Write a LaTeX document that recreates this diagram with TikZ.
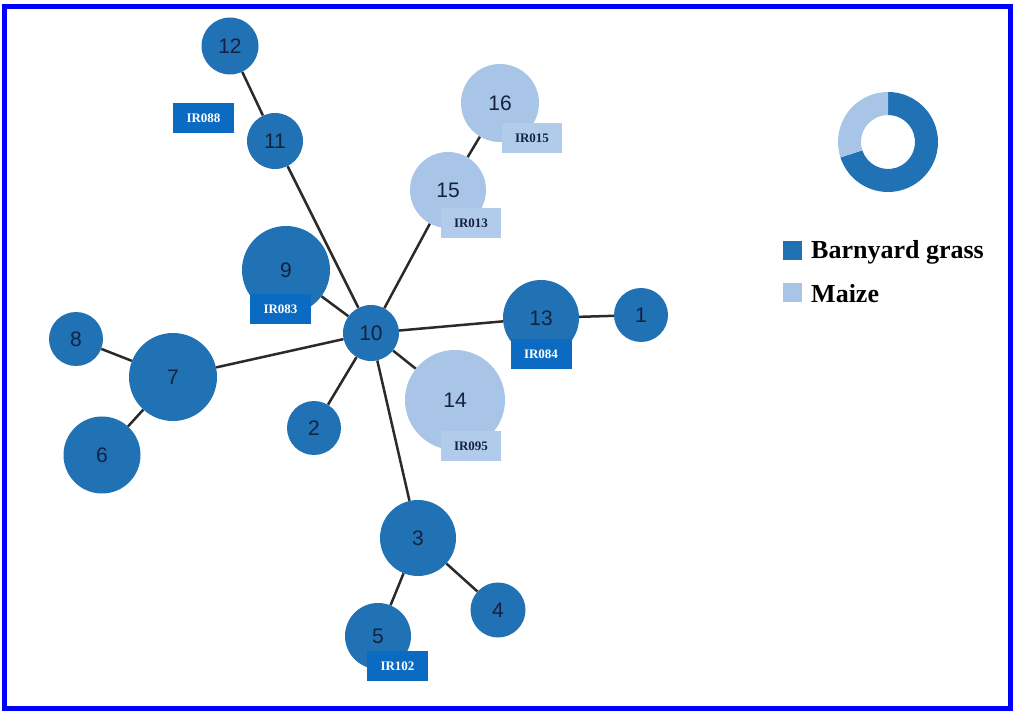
\documentclass[tikz,border=0pt]{standalone}
\usepackage{fontspec}
\setmainfont{Liberation Serif}
\setsansfont{Liberation Sans}
\pgfdeclarelayer{background}
\pgfsetlayers{background,main}
\definecolor{darkb}{HTML}{2171B5}
\definecolor{darkbox}{HTML}{0B6BC3}
\definecolor{lightb}{HTML}{A8C4E7}
\definecolor{lightbox}{HTML}{B0CCEA}
\definecolor{numtxt}{HTML}{14223F}
\definecolor{edgec}{HTML}{2A2A2A}
\tikzset{
  hap/.style={circle, inner sep=0pt, font=\sffamily\fontsize{21}{21}\selectfont, text=numtxt},
  dk/.style={hap, fill=darkb},
  lt/.style={hap, fill=lightb},
  dkbox/.style={fill=darkbox, text=white, font=\bfseries\fontsize{13}{13}\selectfont, minimum width=61pt, minimum height=30pt, inner sep=0pt},
  ltbox/.style={fill=lightbox, text=numtxt, font=\bfseries\fontsize{13}{13}\selectfont, minimum width=60pt, minimum height=30pt, inner sep=0pt},
  link/.style={draw=edgec, line width=2.5pt},
  legtxt/.style={anchor=west, font=\bfseries\fontsize{26}{26}\selectfont, text=black, inner sep=0pt},
  legkey/.style={minimum size=19pt, inner sep=0pt}
}
\begin{document}
\begin{tikzpicture}[x=1pt,y=-1pt]
\useasboundingbox (0,0) rectangle (1013,711);
\draw[blue, line width=5pt] (4.5,6.5) rectangle (1010.5,708.5);
% haplotype nodes
\node[dk, minimum size=57pt] (n12) at (230,46) {12};
\node[dk, minimum size=56pt] (n11) at (275,141) {11};
\node[lt, minimum size=78pt] (n16) at (500,103) {16};
\node[lt, minimum size=76pt] (n15) at (448,190) {15};
\node[dk, minimum size=88pt] (n9) at (286,270) {9};
\node[dk, minimum size=56pt] (n10) at (371,333) {10};
\node[dk, minimum size=76pt] (n13) at (541,318) {13};
\node[dk, minimum size=54pt] (n1) at (641,315) {1};
\node[dk, minimum size=54pt] (n8) at (76,339) {8};
\node[dk, minimum size=88pt] (n7) at (173,377) {7};
\node[dk, minimum size=77pt] (n6) at (102,455) {6};
\node[dk, minimum size=54pt] (n2) at (314,428) {2};
\node[lt, minimum size=100pt] (n14) at (455,400) {14};
\node[dk, minimum size=76pt] (n3) at (418,538) {3};
\node[dk, minimum size=55pt] (n4) at (498,610) {4};
\node[dk, minimum size=66pt] (n5) at (378,636) {5};
% isolate labels
\node[dkbox] (l88) at (203.5,118.5) {IR088};
\node[ltbox] (l15) at (532,138) {IR015};
\node[ltbox] (l13) at (471,223.5) {IR013};
\node[dkbox] (l83) at (280.5,309.5) {IR083};
\node[dkbox] (l84) at (541,354.5) {IR084};
\node[ltbox] (l95) at (471,446.5) {IR095};
\node[dkbox] (l102) at (397.5,666) {IR102};
% links
\begin{pgfonlayer}{background}
\draw[link] (n12) -- (n11);
\draw[link] (n11) -- (n10);
\draw[link] (n16) -- (n15);
\draw[link] (n15) -- (n10);
\draw[link] (n9) -- (n10);
\draw[link] (n10) -- (n13);
\draw[link] (n13) -- (n1);
\draw[link] (n10) -- (n7);
\draw[link] (n7) -- (n8);
\draw[link] (n7) -- (n6);
\draw[link] (n10) -- (n2);
\draw[link] (n10) -- (n14);
\draw[link] (n10) -- (n3);
\draw[link] (n3) -- (n4);
\draw[link] (n3) -- (n5);
\end{pgfonlayer}
% donut (y axis points down, so angles are mirrored)
\coordinate (dc) at (888,142);
\fill[darkb] ([shift={(-90:50)}]dc) arc[start angle=-90, end angle=162, radius=50] -- ([shift={(162:27)}]dc) arc[start angle=162, end angle=-90, radius=27] -- cycle;
\fill[lightb] ([shift={(-90:50)}]dc) arc[start angle=-90, end angle=-198, radius=50] -- ([shift={(-198:27)}]dc) arc[start angle=-198, end angle=-90, radius=27] -- cycle;
% legend
\node[legkey, fill=darkb] (kb) at (792,251) {};
\node[legkey, fill=lightb] (km) at (792,293) {};
\node[legtxt] (tb) at (811,252) {Barnyard grass};
\node[legtxt] (tm) at (811,294) {Maize};
\end{tikzpicture}
\end{document}
